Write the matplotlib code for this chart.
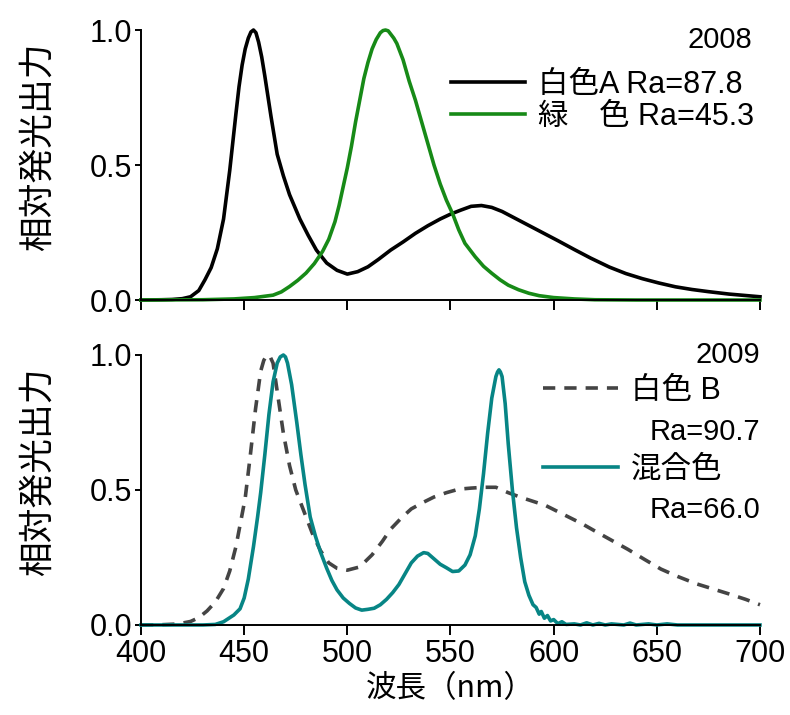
import matplotlib
matplotlib.use("Agg")
import matplotlib.pyplot as plt
from matplotlib.lines import Line2D

plt.rcParams['font.family'] = ['Liberation Sans', 'Noto Sans CJK JP', 'DejaVu Sans']

# 2008: 白色A / 緑色 の発光スペクトル
wl_a = [400, 410, 415, 420, 424, 428, 431, 434, 437, 440, 443, 446, 447.5, 449, 450.5,
        452, 453.3, 454.5, 455.7, 457, 458.5, 460, 461.5, 463, 466, 469, 472, 477, 481,
        485, 490, 495, 500, 505, 510, 515, 521, 527, 533, 539, 545, 550, 555, 560, 565,
        570, 575, 580, 587, 594, 602, 610, 618, 627, 635, 643, 651, 659, 667, 675, 685,
        700]
int_a = [0.0, 0.001, 0.002, 0.005, 0.012, 0.035, 0.075, 0.12, 0.19, 0.30, 0.48, 0.69,
         0.79, 0.87, 0.93, 0.97, 0.993, 1.0, 0.99, 0.955, 0.90, 0.83, 0.755, 0.68, 0.54,
         0.46, 0.39, 0.30, 0.24, 0.185, 0.137, 0.11, 0.096, 0.105, 0.123, 0.15, 0.185,
         0.215, 0.247, 0.275, 0.30, 0.318, 0.333, 0.347, 0.35, 0.343, 0.328, 0.308,
         0.28, 0.252, 0.22, 0.187, 0.155, 0.122, 0.098, 0.079, 0.063, 0.049, 0.039,
         0.031, 0.022, 0.012]

wl_g = [400, 430, 445, 455, 464, 468, 472, 476, 480, 484, 488, 491, 494, 496, 498,
        500, 502, 504, 506, 508, 510, 512, 514, 516, 517.3, 518.5, 519.8, 521, 522.5,
        524, 527, 530, 533, 536, 539, 542, 545, 548, 551, 554, 557, 562, 566, 570, 574,
        578, 583, 588, 593, 600, 610, 620, 640, 700]
int_g = [0.0, 0.001, 0.004, 0.009, 0.018, 0.03, 0.05, 0.073, 0.10, 0.135, 0.18, 0.225,
         0.29, 0.35, 0.42, 0.49, 0.57, 0.66, 0.74, 0.82, 0.88, 0.93, 0.965, 0.99, 0.998,
         1.0, 0.997, 0.985, 0.97, 0.95, 0.89, 0.81, 0.74, 0.66, 0.58, 0.50, 0.43, 0.37,
         0.32, 0.26, 0.21, 0.16, 0.125, 0.099, 0.075, 0.055, 0.038, 0.025, 0.016, 0.009,
         0.004, 0.001, 0.0, 0.0]

# 2009: 白色B / 混合色
wl_b = [400, 410, 416, 420, 424, 428, 432, 436, 440, 443, 446, 448, 450.5, 453, 455.5,
        458, 459.5, 461, 462.5, 464, 466.5, 469, 472, 475, 479, 483, 487, 491, 495, 500,
        506, 512, 517, 521, 526, 531, 537, 542, 548, 554, 560, 566, 572, 578, 584, 590,
        596, 602, 608, 614, 620, 628, 636, 644, 652, 660, 669, 677, 685, 693, 700]
int_b = [0.0, 0.001, 0.003, 0.007, 0.013, 0.027, 0.052, 0.085, 0.135, 0.20, 0.29,
         0.37, 0.47, 0.63, 0.80, 0.94, 0.98, 1.0, 0.995, 0.97, 0.84, 0.71, 0.59, 0.50,
         0.42, 0.34, 0.275, 0.23, 0.21, 0.203, 0.215, 0.26, 0.31, 0.355, 0.395, 0.43,
         0.455, 0.474, 0.49, 0.503, 0.507, 0.51, 0.51, 0.49, 0.473, 0.458, 0.443, 0.42,
         0.397, 0.374, 0.348, 0.314, 0.28, 0.243, 0.207, 0.18, 0.153, 0.134, 0.115,
         0.095, 0.075]

wl_m = [400, 430, 436, 440, 445, 448, 450, 452, 454.5, 456.5, 458, 460, 462, 464, 466,
        467.5, 469, 470, 471, 473, 475.5, 477.5, 479.5, 482, 484.5, 487, 490, 492.5, 495,
        498, 501, 504, 507, 510, 513, 516, 519, 522, 525, 528, 531, 534, 537, 539, 542,
        545, 548, 551, 554, 557, 559.5, 562, 564, 566, 568, 570, 572, 572.8, 573.5, 574.2,
        575, 576.5, 578, 580, 582, 584, 586, 588, 590, 591.5, 593, 594, 595.5, 597, 598.5,
        600, 602, 604, 606, 610, 613, 616, 619, 622, 625, 628, 634, 637, 640, 646, 650,
        655, 660, 700]
int_m = [0.0, 0.0, 0.002, 0.012, 0.037, 0.06, 0.10, 0.17, 0.29, 0.40, 0.49, 0.63, 0.78,
         0.90, 0.97, 0.993, 1.0, 0.993, 0.97, 0.89, 0.75, 0.63, 0.52, 0.40, 0.33, 0.27,
         0.21, 0.165, 0.13, 0.10, 0.08, 0.063, 0.055, 0.058, 0.062, 0.075, 0.095, 0.12,
         0.15, 0.19, 0.23, 0.255, 0.268, 0.265, 0.245, 0.225, 0.212, 0.198, 0.20, 0.222,
         0.26, 0.33, 0.43, 0.56, 0.71, 0.84, 0.92, 0.937, 0.945, 0.937, 0.92, 0.82, 0.67,
         0.50, 0.36, 0.25, 0.16, 0.11, 0.075, 0.065, 0.04, 0.05, 0.025, 0.035, 0.015,
         0.02, 0.005, 0.012, 0.002, 0.004, 0.0, 0.008, 0.0, 0.006, 0.0, 0.004, 0.0,
         0.007, 0.0, 0.004, 0.0, 0.004, 0.0, 0.0]

xticks = [400, 450, 500, 550, 600, 650, 700]
yticks = [0.0, 0.5, 1.0]
ylabel = "相対発光出力"
xlabel = "波長（nm）"

c_black = "#000000"
c_green = "#178a17"
c_gray = "#444444"
c_teal = "#078585"
lw = 2.6
dash = (3.4, 2.5)


def style_axes(ax, show_xlabels):
    ax.set_xlim(400, 700)
    ax.set_ylim(0, 1.0)
    ax.set_xticks(xticks)
    ax.set_yticks(yticks)
    ax.set_yticklabels([f"{v:.1f}" for v in yticks])
    for side in ("top", "right"):
        ax.spines[side].set_visible(False)
    for side in ("left", "bottom"):
        ax.spines[side].set_linewidth(1.4)
    ax.tick_params(axis="x", direction="out", length=7, width=1.4, labelsize=22,
                   pad=3, labelbottom=show_xlabels)
    ax.tick_params(axis="y", direction="out", length=4.5, width=1.4, labelsize=22, pad=2)
    ax.set_ylabel(ylabel, fontsize=25, family=['Noto Sans CJK JP'])
    ax.yaxis.set_label_coords(-0.138, 0.567)


fig = plt.figure(figsize=(7.9, 7.15), dpi=100)
ax1 = fig.add_axes([0.1785, 0.5804, 0.7835, 0.3776])
ax2 = fig.add_axes([0.1785, 0.1259, 0.7835, 0.3776])

# 上段 2008
ax1.plot(wl_a, int_a, color=c_black, lw=lw, clip_on=False, solid_joinstyle="round")
ax1.plot(wl_g, int_g, color=c_green, lw=lw, clip_on=False, solid_joinstyle="round")
style_axes(ax1, False)
ax1.text(0.987, 0.963, "2008", transform=ax1.transAxes, ha="right", va="center",
         fontsize=21)
h1 = [Line2D([], [], color=c_black, lw=lw), Line2D([], [], color=c_green, lw=lw)]
ax1.legend(h1, ["白色A Ra=87.8", "緑　色 Ra=45.3"], loc="center right",
           bbox_to_anchor=(0.99, 0.738), frameon=False, fontsize=22,
           handlelength=2.45, handletextpad=0.4, labelspacing=0.08,
           borderpad=0, borderaxespad=0)

# 下段 2009
ax2.plot(wl_b, int_b, color=c_gray, lw=lw, dashes=dash, clip_on=False,
         dash_joinstyle="round")
ax2.plot(wl_m, int_m, color=c_teal, lw=lw, clip_on=False, solid_joinstyle="round")
style_axes(ax2, True)
ax2.set_xlabel(xlabel, fontsize=22, family=['Noto Sans CJK JP'], labelpad=3)
ax2.text(1.0, 1.0, "2009", transform=ax2.transAxes, ha="right", va="center",
         fontsize=21)
h2 = [Line2D([], [], color=c_gray, lw=lw, dashes=dash),
      Line2D([], [], color=c_teal, lw=lw)]
ax2.legend(h2, ["白色 B", "混合色"], loc="center left",
           bbox_to_anchor=(0.649, 0.722), frameon=False, fontsize=22,
           handlelength=2.45, handletextpad=0.45, labelspacing=1.6,
           borderpad=0, borderaxespad=0)
ax2.text(1.0, 0.715, "Ra=90.7", transform=ax2.transAxes, ha="right", va="center",
         fontsize=21)
ax2.text(1.0, 0.426, "Ra=66.0", transform=ax2.transAxes, ha="right", va="center",
         fontsize=21)

fig.savefig("out.png", dpi=100)
